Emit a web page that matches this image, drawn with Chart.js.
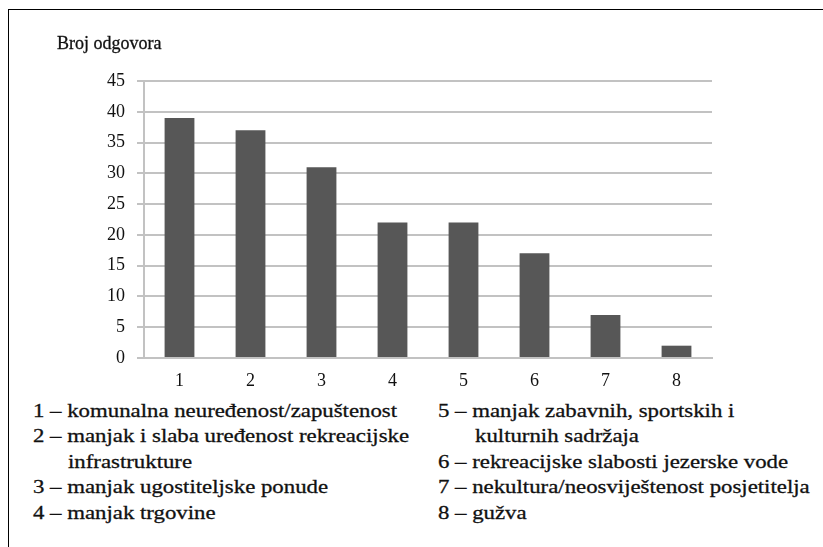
<!DOCTYPE html>
<html>
<head>
<meta charset="utf-8">
<script src="https://cdn.jsdelivr.net/npm/chart.js@4"></script>
<style>
  html, body { margin: 0; padding: 0; background: #fff; }
  #page { position: relative; width: 823px; height: 547px; overflow: hidden; }
  #frame { position: absolute; left: 8px; top: 9px; right: -2px; bottom: -2px;
           border-top: 1px solid #000; border-left: 1px solid #000; }
  #box { position: absolute; left: 0; top: 0; width: 823px; height: 400px; }
  .txt { position: absolute; font-family: "Liberation Serif", "Times New Roman", serif; color: #111;
         white-space: nowrap; line-height: 1; transform-origin: 0 0; -webkit-text-stroke: 0.3px #111; }
  #yTitle { left: 57px; top: 34px; font-size: 18px; }
  .leg { font-size: 19px; }
</style>
</head>
<body>
<div id="page">
  <div id="frame"></div>
  <div id="box"><canvas id="chart" width="823" height="400"></canvas></div>
  <div id="yTitle" class="txt"></div>
  <div id="legend"></div>
</div>
<script>
// values
const categories = ['1', '2', '3', '4', '5', '6', '7', '8'];
const answers = [39, 37, 31, 22, 22, 17, 7, 2];
const yTicks = [0, 5, 10, 15, 20, 25, 30, 35, 40, 45];
const yTitle = 'Broj odgovora';
// description of each category, already split into the printed lines
const leftColumn = [
    ['1 – komunalna neuređenost/zapuštenost'],
    ['2 – manjak i slaba uređenost rekreacijske', 'infrastrukture'],
    ['3 – manjak ugostiteljske ponude'],
    ['4 – manjak trgovine'],
];
const rightColumn = [
    ['5 – manjak zabavnih, sportskih i', 'kulturnih sadržaja'],
    ['6 – rekreacijske slabosti jezerske vode'],
    ['7 – nekultura/neosviještenost posjetitelja'],
    ['8 – gužva'],
];

document.getElementById('yTitle').textContent = yTitle;

// Puts the legend lines under the chart, one column at a time
const legend = document.getElementById('legend');
function placeColumn(items, x, indent) {
    let row = 0;
    items.forEach((lines) => {
        lines.forEach((line, i) => {
            const el = document.createElement('div');
            el.className = 'txt leg';
            el.textContent = line;
            el.style.left = (i === 0 ? x : x + indent) + 'px';
            el.style.top = (401 + row * 25.4) + 'px';
            el.style.transform = 'scaleX(1.2)';
            legend.appendChild(el);
            row++;
        });
    });
}
placeColumn(leftColumn, 33, 35);
placeColumn(rightColumn, 438, 37);

const gridGray = '#c2c2c2';
const tickFont = { family: '"Liberation Serif", "Times New Roman", serif', size: 18 };

new Chart(document.getElementById('chart'), {
    type: 'bar',
    data: {
        labels: categories,
        datasets: [{
            data: answers,
            backgroundColor: '#575757',
            borderWidth: 0,
            categoryPercentage: 1,
            barPercentage: 0.42,
        }],
    },
    options: {
        responsive: false,
        animation: false,
        layout: { padding: { top: 81, right: 111, left: 0, bottom: 0 } },
        plugins: { legend: { display: false }, tooltip: { enabled: false } },
        scales: {
            x: {
                grid: { display: false, drawTicks: false },
                border: { display: true, color: gridGray, width: 2 },
                ticks: { color: '#111', font: tickFont, padding: 12 },
                afterFit: (scale) => { scale.height = 42; },
            },
            y: {
                min: 0,
                max: 45,
                afterBuildTicks: (scale) => { scale.ticks = yTicks.map((v) => ({ value: v })); },
                grid: { color: gridGray, lineWidth: 2, tickLength: 7 },
                border: { display: true, color: gridGray, width: 2 },
                ticks: { color: '#111', font: tickFont, padding: 12 },
                afterFit: (scale) => { scale.width = 144; },
            },
        },
    },
});
</script>
</body>
</html>
